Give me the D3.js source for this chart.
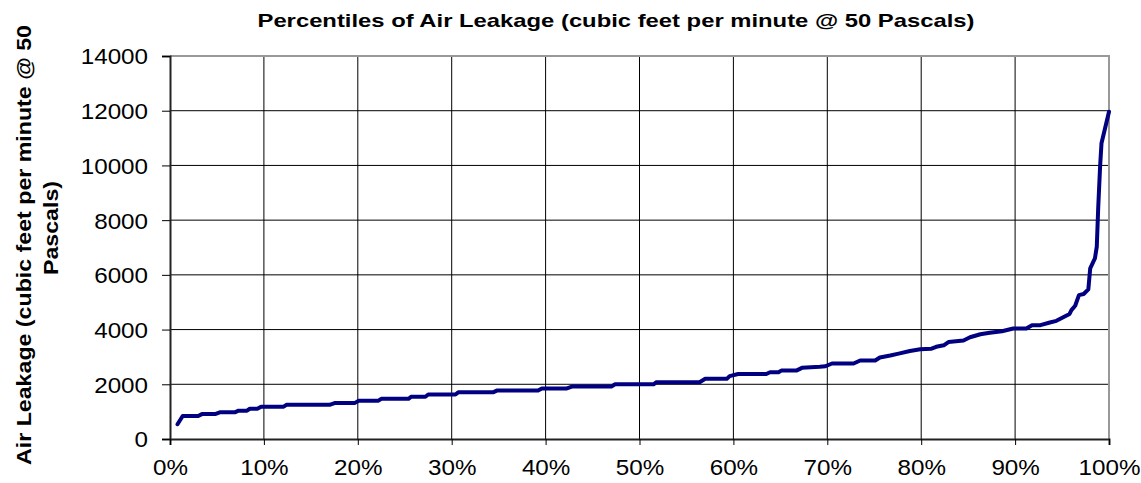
<!DOCTYPE html>
<html>
<head>
<meta charset="utf-8">
<script src="https://cdn.jsdelivr.net/npm/d3@7"></script>
<style>
  body { margin: 0; background: #fff; }
  text { font-family: Arial, "Liberation Sans", sans-serif; }
</style>
</head>
<body>
<div id="chart"></div>
<script>
// percentile (%) and air leakage (cfm @ 50 Pa)
var pct = [0.8, 1.35, 3.0, 3.4, 4.8, 5.3, 6.9, 7.3, 8.2, 8.5, 9.3, 9.7, 12.1, 12.4, 17.0, 17.6,
    19.7, 20.1, 22.2, 22.5, 25.4, 25.7, 27.2, 27.5, 30.4, 30.7, 34.4, 34.8, 39.2, 39.6, 42.2, 42.8,
    47.0, 47.4, 51.5, 51.8, 56.4, 57.0, 59.3, 59.6, 60.5, 63.5, 63.9, 64.8, 65.1, 66.7, 67.3, 69.2,
    69.8, 70.5, 72.8, 73.5, 75.1, 75.6, 76.7, 77.6, 78.8, 79.9, 81.1, 81.6, 82.4, 82.9, 84.5, 85.2,
    86.3, 87.3, 88.6, 89.8, 91.2, 91.8, 92.7, 93.7, 94.4, 95.8, 96.0, 96.4, 96.8, 97.3, 97.8, 98.0,
    98.5, 98.7, 98.85, 99.05, 99.2, 100];
var leakage = [540, 840, 840, 910, 910, 975, 975, 1035, 1035, 1105, 1105, 1180, 1180, 1250, 1250, 1320,
    1320, 1400, 1400, 1470, 1470, 1545, 1545, 1625, 1625, 1705, 1705, 1770, 1770, 1845, 1845, 1915,
    1915, 2000, 2000, 2075, 2075, 2200, 2200, 2300, 2375, 2375, 2440, 2440, 2500, 2500, 2600, 2640,
    2660, 2760, 2760, 2870, 2870, 2980, 3050, 3120, 3215, 3280, 3300, 3370, 3425, 3545, 3600, 3720,
    3830, 3880, 3940, 4040, 4040, 4160, 4160, 4260, 4320, 4570, 4710, 4870, 5260, 5300, 5470, 6240,
    6600, 7030, 8450, 9950, 10810, 11960];

var yTicks = [0, 2000, 4000, 6000, 8000, 10000, 12000, 14000];
var xTicks = [0, 10, 20, 30, 40, 50, 60, 70, 80, 90, 100];

var chartTitle = "Percentiles of Air Leakage (cubic feet per minute @ 50 Pascals)";
var yTitle = ["Air Leakage (cubic feet per minute @ 50", "Pascals)"];

var width = 1141, height = 483;
var plot = { left: 170, right: 1109, top: 56, bottom: 439 };
var stretch = 1.1; // the original picture is a bit wider than its fonts

var svg = d3.select("#chart")
    .append("svg")
    .attr("width", width)
    .attr("height", height);

var x = d3.scaleLinear().domain([0, 100]).range([plot.left, plot.right]);
var y = d3.scaleLinear().domain([0, 14000]).range([plot.bottom, plot.top]);

// gridlines
svg.append("g")
    .selectAll("line")
    .data(yTicks.slice(1, -1))
    .join("line")
    .attr("x1", plot.left).attr("x2", plot.right)
    .attr("y1", d => y(d)).attr("y2", d => y(d))
    .attr("stroke", "#000").attr("stroke-width", 1);

svg.append("g")
    .selectAll("line")
    .data(xTicks.slice(1, -1))
    .join("line")
    .attr("y1", plot.top).attr("y2", plot.bottom)
    .attr("x1", d => x(d)).attr("x2", d => x(d))
    .attr("stroke", "#000").attr("stroke-width", 1);

// plot area border (top/right)
svg.append("path")
    .attr("d", `M${plot.left},${plot.top}H${plot.right}V${plot.bottom}`)
    .attr("fill", "none")
    .attr("stroke", "#999")
    .attr("stroke-width", 2);

// y axis
var yAxis = svg.append("g")
    .attr("transform", `translate(${plot.left},0)`)
    .call(d3.axisLeft(y).tickValues(yTicks).tickSize(8).tickFormat(d3.format("d")));
yAxis.select(".domain").attr("stroke", "#222").attr("stroke-width", 2);
yAxis.selectAll(".tick line").attr("stroke", "#000");
yAxis.selectAll("text")
    .attr("font-size", 22)
    .attr("fill", "#000")
    .attr("x", -22 / stretch)
    .attr("dy", "0.36em")
    .attr("transform", `scale(${stretch},1)`);

// x axis
var xAxis = svg.append("g")
    .attr("transform", `translate(0,${plot.bottom})`)
    .call(d3.axisBottom(x).tickValues(xTicks).tickSize(6).tickPadding(14).tickFormat(d => d + "%"));
xAxis.select(".domain").attr("stroke", "#222").attr("stroke-width", 2);
xAxis.selectAll(".tick line").attr("stroke", "#000");
xAxis.selectAll("text")
    .attr("font-size", 22)
    .attr("fill", "#000")
    .attr("transform", `scale(${stretch},1)`);

// the curve
var line = d3.line()
    .x((d, i) => x(pct[i]))
    .y(d => y(d));

svg.append("path")
    .attr("d", line(leakage))
    .attr("fill", "none")
    .attr("stroke", "#000080")
    .attr("stroke-width", 4)
    .attr("stroke-linejoin", "round")
    .attr("stroke-linecap", "round");

// title
svg.append("text")
    .attr("x", 616)
    .attr("y", 27)
    .attr("text-anchor", "middle")
    .attr("font-size", 19)
    .attr("font-weight", "bold")
    .attr("textLength", 717)
    .attr("lengthAdjust", "spacingAndGlyphs")
    .text(chartTitle);

// y axis title (two lines), stretched along the text like the original
var yTitlePos = [[31, 245], [58, 228]];
svg.append("g")
    .selectAll("text")
    .data(yTitle)
    .join("text")
    .attr("transform", (d, i) => `translate(${yTitlePos[i][0]},${yTitlePos[i][1]}) rotate(-90) scale(1.16,1)`)
    .attr("text-anchor", "middle")
    .attr("font-size", 20)
    .attr("font-weight", "bold")
    .text(d => d);
</script>
</body>
</html>
